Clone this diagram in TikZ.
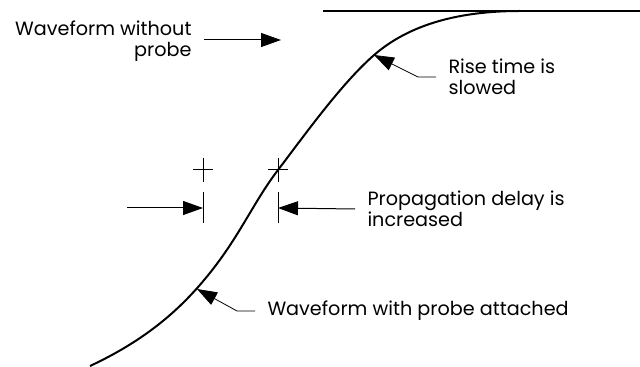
\documentclass[tikz,border=0pt]{standalone}
\usepackage{fontspec}
\setmainfont{Poppins}
\usetikzlibrary{arrows.meta}

\begin{document}
\begin{tikzpicture}[
        x=0.5pt, y=-0.5pt,
        thin, line width=0.5pt,
        label/.style={font=\fontsize{9.6}{10.5}\selectfont, inner sep=0pt, align=left},
        pointer/.style={-{Triangle[length=10pt,width=7pt]}},
        leader/.style={line width=0.4pt},
        wave/.style={line width=1pt, line join=round}
    ]
        \useasboundingbox (0,0) rectangle (640,367);

        % waveform and final level
        \draw[wave] (323,11) -- (640,11);
        \draw[wave] (90,366) .. controls (150,338) and (185,305) .. (213,269)
            .. controls (241,233) and (255,200) .. (278,170)
            .. controls (301,140) and (340,85) .. (373,56)
            .. controls (409,24) and (460,11) .. (520,11);

        % points on the curve
        \coordinate (risetip) at (374,55);
        \coordinate (probetip) at (197,289);

        % labels
        \node[label, anchor=east, align=right] (without) at (192,41) {Waveform without\\probe};
        \node[label, anchor=west] (rise) at (448,77) {Rise time is\\slowed};
        \node[label, anchor=west] (prop) at (367,209) {Propagation delay is\\increased};
        \node[label, anchor=west] (with) at (267,311) {Waveform with probe attached};

        % cross marks and ticks
        \foreach \cx/\nm in {203/a, 278/b} {
            \draw (\cx-10,170) -- (\cx+10,170) (\cx,158) -- (\cx,182);
            \draw (\cx,192) -- (\cx,223);
            \coordinate (tick\nm) at (\cx,208);
        }
        \coordinate (lefttail) at (127,208);
        \coordinate (withouttip) at (281,40);

        % arrows
        \draw[pointer] ([xshift=6pt]without.east |- 0,40) -- (withouttip);
        \draw[pointer] (lefttail) -- (ticka);
        \draw[pointer] ([xshift=-6pt]prop.west) -- (tickb);
        \draw[leader, pointer] ([xshift=-6pt]rise.west) -- ++(-18,0) -- (risetip);
        \draw[leader, pointer] ([xshift=-6pt]with.west) -- ++(-18,0) -- (probetip);

\end{tikzpicture}
\end{document}
